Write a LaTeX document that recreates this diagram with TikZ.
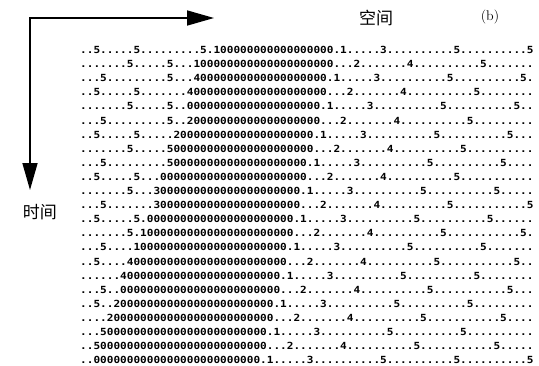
\documentclass[tikz,border=0pt]{standalone}
\usepackage{fontspec}
\newfontfamily\cjk{Noto Sans CJK SC}
\newfontfamily\gridfont[FakeStretch=1.13]{DejaVu Sans Mono}
\usetikzlibrary{arrows.meta}
\ExplSyntaxOn
\newcommand\Dt[1]{\prg_replicate:nn{#1}{.}}
\newcommand\Zr[1]{\prg_replicate:nn{#1}{0}}
\ExplSyntaxOff
\begin{document}
\begin{tikzpicture}[x=1pt,y=-1pt,
  rowtxt/.style={anchor=base west, inner sep=0pt, font=\gridfont\bfseries\fontsize{9.8}{10}\selectfont},
  axis/.style={line width=1.6pt, {Triangle[length=27pt,width=15pt]}-{Triangle[length=27pt,width=15pt]}},
  lbl/.style={inner sep=0pt, font=\cjk\fontsize{17}{18}\selectfont}]
\useasboundingbox (0,0) rectangle (539,365);
\coordinate (o) at (30,18);
\coordinate (xa) at (214,18);
\coordinate (ya) at (30,190);
\draw[axis] (xa) -- (o) -- (ya);
\node[lbl] (space) at (376,18) {空间};
\node[inner sep=0pt, font=\fontsize{14}{16}\selectfont] (b) at (490,17) {(b)};
\node[lbl] (time) at (40,212) {时间};
\foreach \k/\t in {
1/{\Dt{2}5\Dt{5}5\Dt{9}5.1\Zr{17}.1\Dt{5}3\Dt{10}5\Dt{10}5},
2/{\Dt{7}5\Dt{5}5\Dt{3}1\Zr{20}\Dt{3}2\Dt{7}4\Dt{10}5\Dt{7}},
3/{\Dt{3}5\Dt{9}5\Dt{3}4\Zr{19}.1\Dt{5}3\Dt{10}5\Dt{10}5.},
4/{\Dt{2}5\Dt{5}5\Dt{7}4\Zr{20}\Dt{3}2\Dt{7}4\Dt{10}5\Dt{8}},
5/{\Dt{7}5\Dt{5}5\Dt{2}0\Zr{19}.1\Dt{5}3\Dt{10}5\Dt{10}5\Dt{2}},
6/{\Dt{3}5\Dt{9}5\Dt{2}2\Zr{19}\Dt{3}2\Dt{7}4\Dt{10}5\Dt{9}},
7/{\Dt{2}5\Dt{5}5\Dt{5}2\Zr{20}.1\Dt{5}3\Dt{10}5\Dt{10}5\Dt{3}},
8/{\Dt{7}5\Dt{5}5\Zr{21}\Dt{3}2\Dt{7}4\Dt{10}5\Dt{10}},
9/{\Dt{3}5\Dt{9}5\Zr{20}.1\Dt{5}3\Dt{10}5\Dt{10}5\Dt{4}},
10/{\Dt{2}5\Dt{5}5\Dt{3}0\Zr{21}\Dt{3}2\Dt{7}4\Dt{10}5\Dt{11}},
11/{\Dt{7}5\Dt{3}3\Zr{21}.1\Dt{5}3\Dt{10}5\Dt{10}5\Dt{5}},
12/{\Dt{3}5\Dt{7}3\Zr{21}\Dt{3}2\Dt{7}4\Dt{10}5\Dt{11}5},
13/{\Dt{2}5\Dt{5}5.0\Zr{21}.1\Dt{5}3\Dt{10}5\Dt{10}5\Dt{6}},
14/{\Dt{7}5.1\Zr{22}\Dt{3}2\Dt{7}4\Dt{10}5\Dt{11}5.},
15/{\Dt{3}5\Dt{4}1\Zr{22}.1\Dt{5}3\Dt{10}5\Dt{10}5\Dt{7}},
16/{\Dt{2}5\Dt{4}4\Zr{23}\Dt{3}2\Dt{7}4\Dt{10}5\Dt{11}5\Dt{2}},
17/{\Dt{6}4\Zr{23}.1\Dt{5}3\Dt{10}5\Dt{10}5\Dt{8}},
18/{\Dt{3}5\Dt{2}0\Zr{23}\Dt{3}2\Dt{7}4\Dt{10}5\Dt{11}5\Dt{3}},
19/{\Dt{2}5\Dt{2}2\Zr{23}.1\Dt{5}3\Dt{10}5\Dt{10}5\Dt{9}},
20/{\Dt{4}2\Zr{24}\Dt{3}2\Dt{7}4\Dt{10}5\Dt{11}5\Dt{4}},
21/{\Dt{3}5\Zr{24}.1\Dt{5}3\Dt{10}5\Dt{10}5\Dt{10}},
22/{\Dt{2}5\Zr{25}\Dt{3}2\Dt{7}4\Dt{10}5\Dt{11}5\Dt{5}},
23/{\Dt{2}0\Zr{24}.1\Dt{5}3\Dt{10}5\Dt{10}5\Dt{10}5}}
  \node[rowtxt] (r\k) at (80,{53.5+14.1*(\k-1)}) {\t};
\end{tikzpicture}
\end{document}
